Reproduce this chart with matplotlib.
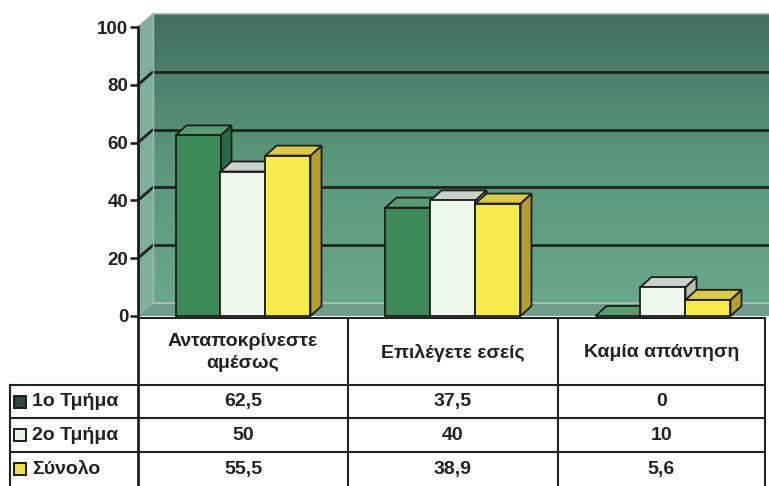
import matplotlib
matplotlib.use("Agg")
import numpy as np
import matplotlib.pyplot as plt
from matplotlib.patches import Polygon, Rectangle
from matplotlib.colors import LinearSegmentedColormap

# data
categories = ["Ανταποκρίνεστε\nαμέσως", "Επιλέγετε εσείς", "Καμία απάντηση"]
series_names = ["1ο Τμήμα", "2ο Τμήμα", "Σύνολο"]
tmima1 = [62.5, 37.5, 0]
tmima2 = [50, 40, 10]
synolo = [55.5, 38.9, 5.6]
yticks = [0, 20, 40, 60, 80, 100]

series = [tmima1, tmima2, synolo]
# front, top, side colours per series
face_cols = [("#3b8a57", "#589c70", "#2c6a45"),
             ("#eef8ec", "#c9d2c9", "#b4c2b2"),
             ("#f7ea4e", "#dcc84a", "#b39d33")]
key_cols = ["#2f4a3a", "#e6f2e4", "#efe046"]

FONT = ["Liberation Sans", "DejaVu Sans"]
plt.rcParams["font.family"] = FONT
edge = "#1c1c1c"
fs = 14

W, H = 769, 486
fig = plt.figure(figsize=(W / 100, H / 100), dpi=100)

# main chart area (front plane), pixel layout of the reference
x_left, x_right, y_zero, y_top = 138, 768, 316, 27
ax = fig.add_axes([x_left / W, (H - y_zero) / H, (x_right - x_left) / W, (y_zero - y_top) / H])
ax.set_xlim(-0.5, 2.5)
ax.set_ylim(0, 100)
ax.set_autoscale_on(False)
ax.patch.set_visible(False)
for s in ["top", "right", "bottom"]:
    ax.spines[s].set_visible(False)
ax.spines["left"].set_linewidth(2)
ax.spines["left"].set_color(edge)
ax.set_xticks([])
ax.set_yticks(yticks)
ax.set_yticklabels([str(t) for t in yticks], fontsize=13.5, fontweight="bold", color="#222")
ax.tick_params(axis="y", length=6, width=1.8, color=edge, pad=1)


def px2data(dxp, dyp):
    inv = ax.transData.inverted()
    p0 = inv.transform((0, 0))
    p1 = inv.transform((dxp, dyp))
    return p1 - p0


wdx, wdy = px2data(15, 13)   # depth of the walls
bdx, bdy = px2data(11, 10)   # depth of the bars

x0w, x1w = -0.5, 2.5
# back wall gradient
cmap = LinearSegmentedColormap.from_list("wall", ["#68a88a", "#5a977c", "#42705d"])
grad = np.linspace(0, 1, 256).reshape(-1, 1)
ax.imshow(grad, cmap=cmap, origin="lower", aspect="auto", interpolation="bilinear",
          extent=[x0w + wdx, x1w + 2 * wdx, wdy, 100 + wdy], clip_on=False, zorder=0)

# side wall
ax.add_patch(Polygon([(x0w, 0), (x0w + wdx, wdy), (x0w + wdx, 100 + wdy), (x0w, 100)],
                     closed=True, facecolor="#7fae9b", edgecolor="none", clip_on=False, zorder=1))
# floor
ax.add_patch(Polygon([(x0w, 0), (x1w + wdx, 0), (x1w + 2 * wdx, wdy), (x0w + wdx, wdy)],
                     closed=True, facecolor="#6f9d88", edgecolor="none", clip_on=False, zorder=1))
ax.plot([x0w + wdx, x1w + 2 * wdx], [wdy, wdy], color="#a9bdb3", lw=1.5, zorder=2, clip_on=False)

# gridlines
for t in yticks[1:-1]:
    ax.plot([x0w + wdx, x1w + 2 * wdx], [t + wdy, t + wdy], color="#1e2320", lw=2, zorder=2, clip_on=False)
    ax.plot([x0w, x0w + wdx], [t, t + wdy], color="#1e2320", lw=2, zorder=2, clip_on=False)
ax.plot([x0w + wdx, x1w + 2 * wdx], [100 + wdy, 100 + wdy], color="#9aaba4", lw=1.2, zorder=2, clip_on=False)
ax.plot([x0w, x0w + wdx], [100, 100 + wdy], color="#9aaba4", lw=1.2, zorder=2, clip_on=False)
ax.plot([x0w + wdx, x0w + wdx], [wdy, 100 + wdy], color="#a5bcb2", lw=1, zorder=2, clip_on=False)

# 3D-looking bars
w = 45 / 210
z = 3
for j in range(len(categories)):
    for i, vals in enumerate(series):
        h = vals[j]
        xa = j + (i - 1) * w - w / 2
        xb = xa + w
        front, top, side = face_cols[i]
        ax.add_patch(Polygon([(xb, 0), (xb + bdx, bdy), (xb + bdx, h + bdy), (xb, h)],
                             closed=True, facecolor=side, edgecolor=edge, lw=1.3, zorder=z, clip_on=False))
        ax.add_patch(Polygon([(xa, h), (xb, h), (xb + bdx, h + bdy), (xa + bdx, h + bdy)],
                             closed=True, facecolor=top, edgecolor=edge, lw=1.3, zorder=z, clip_on=False))
        if h > 0:
            ax.add_patch(Rectangle((xa, 0), w, h, facecolor=front, edgecolor=edge, lw=1.3,
                                   zorder=z, clip_on=False))
        z += 1

# data table underneath
tb = fig.add_axes([0, 0, 1, 1])
tb.set_xlim(0, W)
tb.set_ylim(H, 0)
tb.axis("off")
tb.patch.set_visible(False)

col_x = [138, 348, 558, 765]
row_y = [318, 385, 418, 452, 486]
lab_x = 10
lc = "#222222"
tb.plot([138, 138], [316, 486], color=lc, lw=2)
for x in col_x[1:]:
    tb.plot([x, x], [318, 486], color=lc, lw=1.5)
tb.plot([lab_x, lab_x], [385, 486], color=lc, lw=1.5)
tb.plot([138, 765], [318, 318], color=lc, lw=1.5)
for y in row_y[1:4]:
    tb.plot([lab_x, 765], [y, y], color=lc, lw=1.5)

for j, cat in enumerate(categories):
    cx = (col_x[j] + col_x[j + 1]) / 2
    tb.text(cx, (row_y[0] + row_y[1]) / 2 + 1, cat, ha="center", va="center", fontsize=fs,
            fontweight="bold", color="#222", linespacing=1.35)

for i, name in enumerate(series_names):
    cy = (row_y[i + 1] + row_y[i + 2]) / 2
    tb.add_patch(Rectangle((14, cy - 6), 12, 12, facecolor=key_cols[i], edgecolor=edge, lw=1.4))
    tb.text(32, cy, name, ha="left", va="center", fontsize=fs, fontweight="bold", color="#222")
    for j, v in enumerate(series[i]):
        cx = (col_x[j] + col_x[j + 1]) / 2
        tb.text(cx, cy, f"{v:g}".replace(".", ","), ha="center", va="center", fontsize=fs,
                fontweight="bold", color="#222")

fig.savefig("out.png", dpi=100)
